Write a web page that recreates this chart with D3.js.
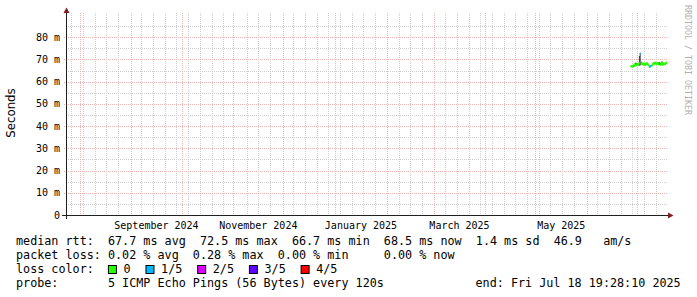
<!DOCTYPE html>
<html>
<head>
<meta charset="utf-8">
<script src="https://cdn.jsdelivr.net/npm/d3@7"></script>
<style>
  body { margin: 0; background: #fff; }
  svg { display: block; }
  text { white-space: pre; }
</style>
</head>
<body>
<div id="chart"></div>
<script>
// ---- data (12 hour steps, from 27 Jun 2025) ----
var firstStep = "2025-06-27T00:00:00Z";
var medianMs = [66.9, 67.0, 66.8, 67.3, 67.1, 67.6, 67.4, 67.8, 67.5, 67.9, 68.4, 72.5,
                68.6, 67.9, 68.2, 67.7, 68.0, 67.6, 67.9, 68.3, 67.8, 67.4, 66.7, 66.9,
                67.0, 67.3, 67.8, 68.3, 68.1, 68.5, 68.2, 68.0, 68.4, 67.9, 68.2, 67.6,
                68.1, 68.6, 67.7, 68.2, 67.9, 68.0, 68.4, 68.5];
var smokeLo  = [66.7, 66.8, 66.6, 67.0, 66.9, 67.3, 67.2, 67.5, 67.3, 67.6, 67.2, 67.3,
                68.3, 67.7, 68.0, 67.5, 67.8, 67.4, 67.7, 68.0, 67.6, 67.2, 66.5, 66.7,
                66.8, 67.1, 67.6, 68.1, 67.9, 68.3, 68.0, 67.8, 68.2, 67.5, 67.6, 67.2,
                67.8, 68.0, 67.3, 67.8, 67.7, 67.8, 68.2, 68.3];
var smokeHi  = [67.1, 67.2, 67.0, 67.5, 67.3, 68.6, 68.4, 68.5, 67.7, 68.1, 71.6, 73.0,
                68.8, 68.1, 68.4, 67.9, 68.2, 67.8, 68.1, 68.5, 68.0, 67.6, 66.9, 67.1,
                67.2, 67.5, 68.0, 68.5, 68.3, 68.7, 68.4, 68.2, 68.6, 68.6, 68.9, 68.4,
                68.3, 69.1, 68.5, 68.4, 68.1, 68.2, 68.6, 68.7];
var lossIdx  = [0, 0, 0, 0, 0, 0, 0, 0, 0, 0, 0, 1,
                0, 0, 0, 0, 0, 0, 0, 0, 0, 0, 1, 1,
                1, 0, 0, 0, 0, 0, 0, 0, 0, 0, 1, 0,
                0, 0, 0, 0, 0, 0, 0, 0];

var yMajorTicks = [10, 20, 30, 40, 50, 60, 70, 80];
var yMinorTicks = [5, 15, 25, 35, 45, 55, 65, 75, 85];
var yTickLabels = ["0", "10 m", "20 m", "30 m", "40 m", "50 m", "60 m", "70 m", "80 m"];
var monthLabels = ["September 2024", "November 2024", "January 2025", "March 2025", "May 2025"];

var lossLabels = ["0", "1/5", "2/5", "3/5", "4/5"];
var lossColors = ["#26ff00", "#00b8ff", "#dd00ff", "#5e00ff", "#ff0000"];

var legendRtt  = "median rtt:  67.7 ms avg  72.5 ms max  66.7 ms min  68.5 ms now  1.4 ms sd  46.9   am/s";
var legendLoss = "packet loss: 0.02 % avg  0.28 % max  0.00 % min     0.00 % now";
var legendProbe = "probe:       5 ICMP Echo Pings (56 Bytes) every 120s";
var legendEnd = "end: Fri Jul 18 19:28:10 2025";
var endTime = "2025-07-18T19:28:10Z";

// ---- layout ----
var W = 697, H = 297;
var pLeft = 66, pRight = 667, pTop = 15, pBottom = 215;
var mono = "'DejaVu Sans Mono', monospace";
var charW = 7.07; // legend font advance
var minorCol = "#cfcfcf", majorCol = "#efb4b4";

var svg = d3.select("#chart").append("svg")
    .attr("width", W)
    .attr("height", H);

var end = new Date(endTime);
var start = d3.utcDay.offset(end, -360);

var x = d3.scaleUtc().domain([start, end]).range([pLeft, pRight]);
var y = d3.scaleLinear().domain([0, 90]).range([pBottom, pTop]);

// grid
var grid = svg.append("g").attr("shape-rendering", "crispEdges");
var months = d3.utcMonth.range(d3.utcMonth.ceil(start), end);
var weeks = d3.utcSaturday.range(start, end).filter(function(d) {
    return d3.min(months, function(m) { return Math.abs(x(m) - x(d)); }) > 2;
});

grid.selectAll(".hmin").data(yMinorTicks).enter().append("line")
    .attr("x1", pLeft).attr("x2", pRight)
    .attr("y1", function(d) { return Math.round(y(d)) + 0.5; })
    .attr("y2", function(d) { return Math.round(y(d)) + 0.5; })
    .attr("stroke", minorCol).attr("stroke-dasharray", "1,1");

grid.selectAll(".vmin").data(weeks).enter().append("line")
    .attr("x1", function(d) { return Math.round(x(d)) + 0.5; })
    .attr("x2", function(d) { return Math.round(x(d)) + 0.5; })
    .attr("y1", pTop - 2).attr("y2", pBottom)
    .attr("stroke", minorCol).attr("stroke-dasharray", "1,1");

grid.selectAll(".hmaj").data(yMajorTicks).enter().append("line")
    .attr("x1", pLeft - 2).attr("x2", pRight)
    .attr("y1", function(d) { return Math.round(y(d)) + 0.5; })
    .attr("y2", function(d) { return Math.round(y(d)) + 0.5; })
    .attr("stroke", majorCol).attr("stroke-dasharray", "1,1");

grid.selectAll(".vmaj").data(months).enter().append("line")
    .attr("x1", function(d) { return Math.round(x(d)) + 0.5; })
    .attr("x2", function(d) { return Math.round(x(d)) + 0.5; })
    .attr("y1", pTop - 2).attr("y2", pBottom + 2)
    .attr("stroke", majorCol).attr("stroke-dasharray", "1,1");

// smoke + median
var t0 = new Date(firstStep);
var steps = medianMs.map(function(v, i) {
    return {
        t: d3.utcHour.offset(t0, 12 * i),
        t2: d3.utcHour.offset(t0, 12 * (i + 1)),
        med: v, lo: smokeLo[i], hi: smokeHi[i], loss: lossIdx[i]
    };
});

var plot = svg.append("g");
plot.selectAll(".smoke").data(steps).enter().append("rect")
    .attr("x", function(d) { return x(d.t); })
    .attr("width", function(d) { return Math.min(x(d.t2), pRight) - x(d.t); })
    .attr("y", function(d) { return y(d.hi); })
    .attr("height", function(d) { return y(d.lo) - y(d.hi); })
    .attr("fill", "#222");

plot.selectAll(".med").data(steps).enter().append("rect")
    .attr("x", function(d) { return x(d.t); })
    .attr("width", function(d) { return Math.min(x(d.t2), pRight) - x(d.t); })
    .attr("y", function(d) { return y(d.med) - 1; })
    .attr("height", 2)
    .attr("fill", function(d) { return lossColors[d.loss]; });

// vertical joins only between steps of the same loss colour
var joins = steps.slice(1).map(function(d, i) { return { a: steps[i], b: d }; })
    .filter(function(p) { return p.a.loss === p.b.loss; });
plot.selectAll(".jump").data(joins).enter().append("rect")
    .attr("x", function(p) { return x(p.b.t) - 0.5; })
    .attr("width", 1)
    .attr("y", function(p) { return Math.min(y(p.a.med), y(p.b.med)) - 1; })
    .attr("height", function(p) { return Math.abs(y(p.a.med) - y(p.b.med)) + 2; })
    .attr("fill", function(p) { return lossColors[p.b.loss]; });

// axes
svg.append("line")
    .attr("x1", pLeft - 4).attr("x2", pRight + 2)
    .attr("y1", pBottom + 0.5).attr("y2", pBottom + 0.5)
    .attr("stroke", "#1f1f1f");
svg.append("line")
    .attr("x1", pLeft + 0.5).attr("x2", pLeft + 0.5)
    .attr("y1", pBottom + 4).attr("y2", pTop - 2)
    .attr("stroke", "#1f1f1f");
svg.append("path")
    .attr("d", "M" + (pRight + 1) + "," + (pBottom - 2.5) + "L" + (pRight + 6.5) + "," + (pBottom + 0.5) +
               "L" + (pRight + 1) + "," + (pBottom + 3.5) + "Z")
    .attr("fill", "#7f1f1f");
svg.append("path")
    .attr("d", "M" + (pLeft - 2.5) + "," + (pTop - 2) + "L" + (pLeft + 0.5) + "," + (pTop - 7.5) +
               "L" + (pLeft + 3.5) + "," + (pTop - 2) + "Z")
    .attr("fill", "#7f1f1f");

// y labels
svg.selectAll(".ylab").data([0].concat(yMajorTicks)).enter().append("text")
    .attr("x", 60)
    .attr("y", function(d) { return y(d) + 3.5; })
    .attr("text-anchor", "end")
    .attr("font-family", mono).attr("font-size", "10px")
    .text(function(d, i) { return yTickLabels[i]; });

// x labels, centred on the month
var parseMonth = d3.utcParse("%B %Y");
svg.selectAll(".xlab").data(monthLabels).enter().append("text")
    .attr("x", function(d) {
        var m = parseMonth(d);
        return (x(m) + x(d3.utcMonth.offset(m, 1))) / 2;
    })
    .attr("y", 229)
    .attr("text-anchor", "middle")
    .attr("font-family", mono).attr("font-size", "10px")
    .text(function(d) { return d; });

// y title and watermark
svg.append("text")
    .attr("transform", "translate(15.3,113) rotate(-90)")
    .attr("text-anchor", "middle")
    .attr("font-family", "'DejaVu Sans', sans-serif").attr("font-size", "11.75px")
    .text("Seconds");
svg.append("text")
    .attr("transform", "translate(685,5) rotate(90)")
    .attr("font-family", mono).attr("font-size", "8.3px")
    .attr("fill", "#b0b0b0")
    .text("RRDTOOL / TOBI OETIKER");

// legend
var legend = svg.append("g")
    .attr("font-family", mono).attr("font-size", "11.75px");
legend.append("text").attr("x", 16).attr("y", 245).text(legendRtt);
legend.append("text").attr("x", 16).attr("y", 259).text(legendLoss);
legend.append("text").attr("x", 16).attr("y", 273).text("loss color:");
legend.append("text").attr("x", 16).attr("y", 287).text(legendProbe);
legend.append("text").attr("x", 16 + 65 * charW).attr("y", 287).text(legendEnd);

var bx = 16 + 13 * charW;
lossLabels.forEach(function(lab, i) {
    legend.append("rect")
        .attr("x", bx + 0.5).attr("y", 265.5)
        .attr("width", 8).attr("height", 8)
        .attr("fill", lossColors[i]).attr("stroke", "#000");
    legend.append("text").attr("x", bx + 15.6).attr("y", 273).text(lab);
    bx += 15.6 + lab.length * charW + 14.9;
});
</script>
</body>
</html>
